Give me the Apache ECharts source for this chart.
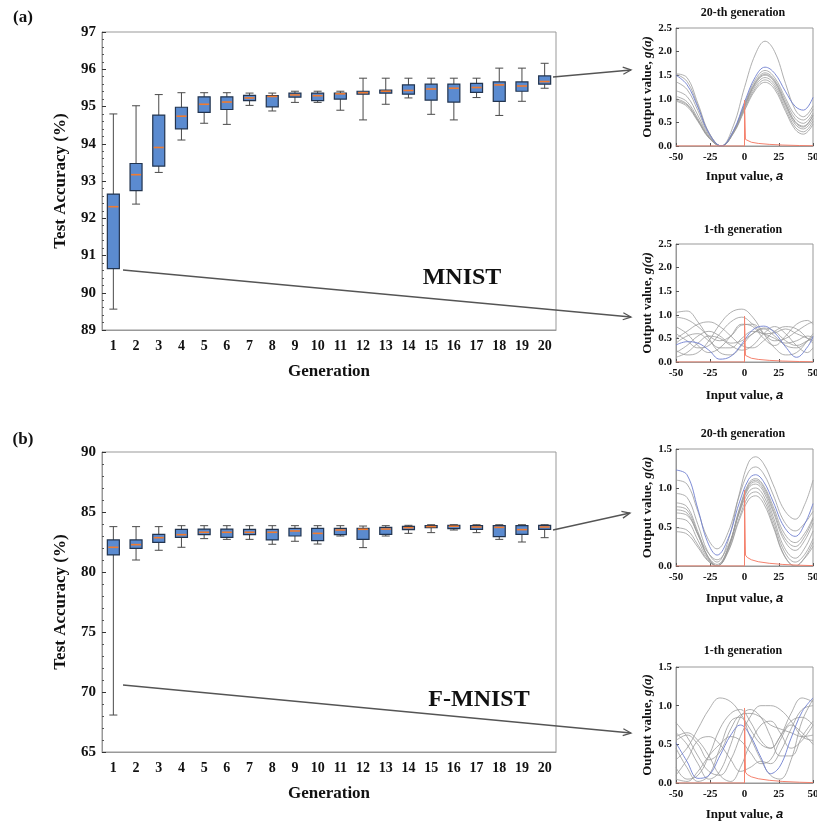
<!DOCTYPE html>
<html>
<head>
<meta charset="utf-8">
<script src="https://cdn.jsdelivr.net/npm/echarts@6/dist/echarts.min.js"></script>
<style>
  html, body { margin: 0; padding: 0; background: #fff; }
  #chart { width: 817px; height: 825px; }
</style>
</head>
<body>
<div id="chart"></div>
<script>
// generations on the x axis of both box plots
const generations = ['1','2','3','4','5','6','7','8','9','10','11','12','13','14','15','16','17','18','19','20'];

// (a) MNIST test accuracy per generation
const mnistLow = [89.56, 92.38, 93.23, 94.10, 94.55, 94.52, 95.03, 94.88, 95.11, 95.11, 94.90, 94.64, 95.06, 95.23, 94.79, 94.64, 95.24, 94.76, 95.14, 95.49];
const mnistQ1 = [90.65, 92.74, 93.40, 94.40, 94.84, 94.92, 95.16, 94.99, 95.25, 95.16, 95.20, 95.33, 95.36, 95.33, 95.17, 95.12, 95.38, 95.14, 95.41, 95.60];
const mnistMedian = [92.31, 93.17, 93.90, 94.74, 95.06, 95.12, 95.23, 95.27, 95.31, 95.29, 95.34, 95.37, 95.41, 95.43, 95.47, 95.49, 95.51, 95.58, 95.55, 95.67];
const mnistQ3 = [92.65, 93.47, 94.77, 94.98, 95.26, 95.26, 95.30, 95.29, 95.36, 95.36, 95.36, 95.41, 95.44, 95.58, 95.60, 95.60, 95.62, 95.66, 95.66, 95.82];
const mnistHigh = [94.80, 95.02, 95.32, 95.37, 95.37, 95.37, 95.36, 95.36, 95.41, 95.41, 95.41, 95.76, 95.76, 95.76, 95.76, 95.76, 95.76, 96.03, 96.03, 96.16];

// (b) F-MNIST test accuracy per generation
const fmnistLow = [68.08, 81.00, 81.81, 82.06, 82.78, 82.72, 82.72, 82.31, 82.56, 82.33, 83.00, 82.03, 83.00, 83.22, 83.28, 83.50, 83.28, 82.72, 82.50, 82.86];
const fmnistQ1 = [81.42, 81.97, 82.47, 82.89, 83.11, 82.89, 83.11, 82.67, 83.00, 82.61, 83.11, 82.72, 83.14, 83.53, 83.69, 83.61, 83.56, 82.94, 83.14, 83.56];
const fmnistMedian = [82.06, 82.28, 82.86, 83.11, 83.31, 83.31, 83.31, 83.31, 83.42, 83.22, 83.50, 83.56, 83.58, 83.69, 83.78, 83.81, 83.75, 83.72, 83.53, 83.75];
const fmnistQ3 = [82.67, 82.67, 83.14, 83.56, 83.58, 83.58, 83.56, 83.56, 83.64, 83.64, 83.64, 83.64, 83.72, 83.81, 83.86, 83.89, 83.86, 83.86, 83.86, 83.89];
const fmnistHigh = [83.78, 83.78, 83.78, 83.86, 83.86, 83.86, 83.86, 83.86, 83.86, 83.86, 83.86, 83.83, 83.86, 83.89, 83.94, 83.94, 83.94, 83.94, 83.94, 83.94];

// activation curves, (a) 20-th generation
const a20X = [-50, -42, -34, -26, -17, -8, 0, 8, 15, 22, 30, 37, 43, 50];
const a20Blue = [1.50, 1.30, 0.82, 0.27, 0.00, 0.33, 0.93, 1.47, 1.67, 1.54, 1.15, 0.84, 0.76, 1.03];
const a20Gray = [
  [1.52, 1.37, 0.85, 0.28, 0.00, 0.44, 1.24, 1.95, 2.22, 2.00, 1.32, 0.77, 0.62, 0.85],
  [1.36, 1.20, 0.75, 0.24, 0.00, 0.32, 0.89, 1.41, 1.60, 1.45, 1.01, 0.65, 0.55, 0.78],
  [1.17, 1.05, 0.65, 0.21, 0.00, 0.31, 0.86, 1.36, 1.55, 1.40, 0.95, 0.58, 0.48, 0.70],
  [1.05, 0.94, 0.58, 0.19, 0.00, 0.30, 0.84, 1.32, 1.50, 1.35, 0.89, 0.52, 0.42, 0.64],
  [1.00, 0.89, 0.55, 0.18, 0.00, 0.29, 0.81, 1.28, 1.45, 1.30, 0.84, 0.46, 0.36, 0.58],
  [0.97, 0.87, 0.54, 0.18, 0.00, 0.28, 0.78, 1.23, 1.40, 1.25, 0.78, 0.40, 0.30, 0.52],
  [0.95, 0.84, 0.52, 0.17, 0.00, 0.27, 0.75, 1.19, 1.35, 1.20, 0.73, 0.35, 0.25, 0.46],
  [1.53, 1.45, 0.90, 0.29, 0.00, 0.30, 0.85, 1.34, 1.52, 1.37, 0.89, 0.50, 0.40, 0.66]
];

// activation curves, (a) 1-th generation
const a1X = [-50, -42, -34, -26, -18, -10, -2, 6, 14, 22, 30, 38, 46, 50];
const a1Blue = [0.36, 0.43, 0.40, 0.25, 0.06, 0.12, 0.38, 0.68, 0.76, 0.62, 0.32, 0.10, 0.32, 0.54];
const a1Gray = [
  [1.05, 1.08, 0.85, 0.50, 0.20, 0.15, 0.35, 0.60, 0.70, 0.55, 0.35, 0.30, 0.45, 0.55],
  [0.25, 0.15, 0.20, 0.45, 0.80, 1.05, 1.12, 0.95, 0.60, 0.30, 0.15, 0.20, 0.45, 0.60],
  [0.95, 0.90, 0.75, 0.55, 0.45, 0.55, 0.78, 0.80, 0.60, 0.45, 0.50, 0.65, 0.80, 0.85],
  [0.50, 0.65, 0.80, 0.85, 0.75, 0.55, 0.35, 0.30, 0.45, 0.65, 0.75, 0.70, 0.50, 0.40],
  [0.20, 0.35, 0.55, 0.65, 0.55, 0.40, 0.45, 0.60, 0.72, 0.65, 0.45, 0.35, 0.45, 0.50],
  [0.75, 0.60, 0.35, 0.20, 0.30, 0.55, 0.80, 0.75, 0.50, 0.35, 0.55, 0.80, 0.88, 0.80],
  [0.60, 0.45, 0.30, 0.35, 0.60, 0.85, 0.95, 0.80, 0.60, 0.62, 0.70, 0.60, 0.50, 0.45],
  [0.10, 0.20, 0.40, 0.55, 0.50, 0.35, 0.25, 0.35, 0.60, 0.75, 0.60, 0.35, 0.20, 0.30],
  [0.40, 0.55, 0.60, 0.45, 0.30, 0.30, 0.50, 0.65, 0.60, 0.50, 0.40, 0.45, 0.55, 0.52]
];

// activation curves, (b) 20-th generation
const b20X = [-50, -42, -34, -27, -20, -12, -4, 3, 8, 14, 21, 29, 37, 44, 50];
const b20Blue = [1.23, 1.17, 0.73, 0.31, 0.14, 0.35, 0.80, 1.11, 1.17, 1.08, 0.82, 0.50, 0.38, 0.54, 0.80];
const b20Gray = [
  [0.93, 0.88, 0.53, 0.19, 0.05, 0.32, 0.91, 1.33, 1.40, 1.31, 1.04, 0.72, 0.60, 0.79, 1.10],
  [1.10, 1.05, 0.70, 0.36, 0.22, 0.43, 0.89, 1.21, 1.27, 1.18, 0.91, 0.57, 0.45, 0.55, 0.70],
  [0.81, 0.76, 0.44, 0.13, 0.00, 0.22, 0.72, 1.06, 1.12, 1.03, 0.76, 0.42, 0.30, 0.42, 0.62],
  [0.76, 0.72, 0.41, 0.12, 0.00, 0.22, 0.69, 1.02, 1.08, 0.98, 0.69, 0.33, 0.20, 0.33, 0.55],
  [0.72, 0.68, 0.40, 0.13, 0.02, 0.23, 0.68, 1.00, 1.05, 0.95, 0.63, 0.24, 0.10, 0.23, 0.45],
  [0.68, 0.65, 0.41, 0.18, 0.08, 0.26, 0.67, 0.95, 1.00, 0.90, 0.58, 0.19, 0.05, 0.15, 0.35],
  [0.61, 0.58, 0.33, 0.10, 0.00, 0.19, 0.61, 0.90, 0.95, 0.85, 0.53, 0.14, 0.00, 0.10, 0.25],
  [0.49, 0.46, 0.27, 0.08, 0.00, 0.18, 0.58, 0.85, 0.90, 0.80, 0.50, 0.13, 0.00, 0.11, 0.30],
  [0.44, 0.41, 0.24, 0.07, 0.00, 0.22, 0.70, 1.04, 1.10, 1.01, 0.72, 0.37, 0.25, 0.38, 0.60]
];

// activation curves, (b) 1-th generation
const b1X = [-50, -42, -34, -26, -18, -10, -3, 4, 12, 19, 26, 34, 42, 50];
const b1Blue = [0.52, 0.28, 0.06, 0.10, 0.35, 0.62, 0.75, 0.62, 0.33, 0.12, 0.22, 0.58, 0.92, 1.10];
const b1Gray = [
  [0.30, 0.45, 0.70, 0.95, 1.10, 1.05, 0.90, 0.70, 0.50, 0.45, 0.60, 0.80, 0.85, 0.75],
  [0.78, 0.60, 0.35, 0.15, 0.10, 0.30, 0.60, 0.85, 1.00, 1.00, 0.95, 0.80, 0.60, 0.55],
  [0.60, 0.65, 0.55, 0.35, 0.10, 0.02, 0.20, 0.50, 0.75, 0.80, 0.65, 0.45, 0.55, 0.75],
  [0.20, 0.05, 0.10, 0.35, 0.70, 0.90, 0.95, 0.80, 0.55, 0.45, 0.60, 0.90, 1.10, 1.05],
  [0.65, 0.50, 0.25, 0.05, 0.15, 0.50, 0.85, 0.95, 0.85, 0.60, 0.35, 0.35, 0.60, 0.80],
  [0.45, 0.20, 0.02, 0.10, 0.45, 0.80, 0.85, 0.60, 0.30, 0.10, 0.05, 0.30, 0.80, 1.08],
  [0.10, 0.30, 0.55, 0.60, 0.50, 0.30, 0.15, 0.20, 0.28, 0.25, 0.40, 0.70, 0.95, 1.00],
  [0.05, 0.02, 0.15, 0.35, 0.50, 0.60, 0.55, 0.40, 0.25, 0.30, 0.55, 0.75, 0.65, 0.50],
  [0.55, 0.62, 0.50, 0.30, 0.40, 0.70, 0.88, 0.90, 0.85, 0.75, 0.70, 0.65, 0.60, 0.62]
];

// the reference (red) activation drawn in every small panel
const reluX = [-50, 0, 0.01, 0.7, 2, 5, 10, 18, 28, 40, 50];
const reluY = [0, 0, 0.97, 0.14, 0.11, 0.08, 0.055, 0.035, 0.02, 0.01, 0.005];

const serif = '"Liberation Serif", "Times New Roman", serif';
const ink = '#111';

function boxRows(lo, q1, md, q3, hi) {
  return lo.map((v, i) => [i, v, q1[i], md[i], q3[i], hi[i]]);
}

function drawBox(params, api) {
  const i = api.value(0);
  const lo = api.coord([i, api.value(1)]);
  const q1 = api.coord([i, api.value(2)]);
  const md = api.coord([i, api.value(3)]);
  const q3 = api.coord([i, api.value(4)]);
  const hi = api.coord([i, api.value(5)]);
  const cx = lo[0], half = 6, cap = 4;
  const ws = { stroke: '#4a4a4a', lineWidth: 1 };
  return {
    type: 'group',
    children: [
      { type: 'line', shape: { x1: cx, y1: lo[1], x2: cx, y2: hi[1] }, style: ws },
      { type: 'line', shape: { x1: cx - cap, y1: lo[1], x2: cx + cap, y2: lo[1] }, style: ws },
      { type: 'line', shape: { x1: cx - cap, y1: hi[1], x2: cx + cap, y2: hi[1] }, style: ws },
      { type: 'rect', shape: { x: cx - half, y: q3[1], width: half * 2, height: Math.max(q1[1] - q3[1], 1.5) },
        style: { fill: '#5b8bd0', stroke: '#22344f', lineWidth: 1.2 } },
      { type: 'line', shape: { x1: cx - half + 1, y1: md[1], x2: cx + half - 1, y2: md[1] },
        style: { stroke: '#f07b30', lineWidth: 1.6 } }
    ]
  };
}

function mainX(gi) {
  return {
    type: 'category', gridIndex: gi, data: generations, boundaryGap: true,
    axisLine: { lineStyle: { color: '#999' } },
    axisTick: { alignWithLabel: true, inside: true, length: 4, lineStyle: { color: '#333' } },
    axisLabel: { fontFamily: serif, fontWeight: 'bold', fontSize: 14, color: ink, margin: 9 },
    splitLine: { show: false },
    name: 'Generation', nameLocation: 'middle', nameGap: 33,
    nameTextStyle: { fontFamily: serif, fontWeight: 'bold', fontSize: 17, color: ink }
  };
}

function mainY(gi, min, max, step) {
  return {
    type: 'value', gridIndex: gi, min: min, max: max, interval: step,
    axisLine: { show: true, onZero: false, lineStyle: { color: '#999' } },
    axisTick: { show: true, inside: true, length: 4, lineStyle: { color: '#333' } },
    minorTick: { show: true, splitNumber: 5, length: 2, lineStyle: { color: '#555' } },
    splitLine: { show: false },
    axisLabel: { fontFamily: serif, fontWeight: 'bold', fontSize: 15, color: ink, margin: 6 },
    name: 'Test Accuracy (%)', nameLocation: 'middle', nameGap: 33, nameRotate: 90,
    nameTextStyle: { fontFamily: serif, fontWeight: 'bold', fontSize: 17, color: ink }
  };
}

function smallX(gi, gap) {
  return {
    type: 'value', gridIndex: gi, min: -50, max: 50, interval: 25,
    axisLine: { onZero: false, lineStyle: { color: '#999' } },
    axisTick: { inside: true, length: 3, lineStyle: { color: '#555' } },
    splitLine: { show: false },
    axisLabel: { fontFamily: serif, fontWeight: 'bold', fontSize: 11, color: ink, margin: 6 },
    name: 'Input value, {i|a}', nameLocation: 'middle', nameGap: gap,
    nameTextStyle: {
      fontFamily: serif, fontWeight: 'bold', fontSize: 13, color: ink,
      rich: { i: { fontFamily: '"Liberation Sans", Arial, sans-serif', fontStyle: 'italic', fontWeight: 'bold', fontSize: 13, color: ink } }
    }
  };
}

function smallY(gi, max) {
  return {
    type: 'value', gridIndex: gi, min: 0, max: max, interval: 0.5,
    axisLine: { show: true, onZero: false, lineStyle: { color: '#999' } },
    axisTick: { show: true, inside: true, length: 3, lineStyle: { color: '#555' } },
    splitLine: { show: false },
    axisLabel: { fontFamily: serif, fontWeight: 'bold', fontSize: 11, color: ink, margin: 4,
      formatter: v => v.toFixed(1) },
    name: 'Output value, {i|g(a)}', nameLocation: 'middle', nameGap: 22, nameRotate: 90,
    nameTextStyle: {
      fontFamily: serif, fontWeight: 'bold', fontSize: 13, color: ink,
      rich: { i: { fontFamily: serif, fontStyle: 'italic', fontWeight: 'bold', fontSize: 13, color: ink } }
    }
  };
}

function curveSeries(gi, xs, rows, color, width) {
  return rows.map(r => ({
    type: 'line', xAxisIndex: gi, yAxisIndex: gi, silent: true,
    data: xs.map((x, k) => [x, r[k]]),
    smooth: 0.4, symbol: 'none',
    lineStyle: { color: color, width: width }
  }));
}

function panelSeries(gi, xs, grays, blue) {
  return [].concat(
    curveSeries(gi, xs, grays, '#9a9a9a', 0.8),
    curveSeries(gi, xs, [blue], '#6f7fd0', 0.9),
    [{
      type: 'line', xAxisIndex: gi, yAxisIndex: gi, silent: true, z: 5,
      data: reluX.map((x, k) => [x, reluY[k]]),
      symbol: 'none', lineStyle: { color: '#f4826e', width: 1 }
    }]
  );
}

function arrow(x1, y1, x2, y2) {
  const ang = Math.atan2(y2 - y1, x2 - x1), L = 8, W = 3.5;
  const bx = x2 - L * Math.cos(ang), by = y2 - L * Math.sin(ang);
  const px = -Math.sin(ang) * W, py = Math.cos(ang) * W;
  const st = { stroke: '#555', lineWidth: 1.3, fill: null };
  return [
    { type: 'line', z: 100, shape: { x1: x1, y1: y1, x2: x2, y2: y2 }, style: st },
    { type: 'polyline', z: 100, shape: { points: [[bx + px, by + py], [x2, y2], [bx - px, by - py]] }, style: st }
  ];
}

function label(text, x, y, size) {
  return {
    type: 'text', x: x, y: y, z: 100,
    style: { text: text, fontFamily: serif, fontWeight: 'bold', fontSize: size, fill: ink,
      align: 'center', verticalAlign: 'middle' }
  };
}

const gridBase = { show: true, borderColor: '#999', borderWidth: 1, backgroundColor: 'transparent',
  containLabel: false, outerBoundsMode: 'none' };

const chart = echarts.init(document.getElementById('chart'));
chart.setOption({
  animation: false,
  backgroundColor: '#fff',
  grid: [
    Object.assign({ left: 102, top: 32, width: 454, height: 298 }, gridBase),
    Object.assign({ left: 102, top: 452, width: 454, height: 300 }, gridBase),
    Object.assign({ left: 676, top: 28, width: 137, height: 118 }, gridBase),
    Object.assign({ left: 676, top: 244, width: 137, height: 118 }, gridBase),
    Object.assign({ left: 676, top: 449, width: 137, height: 117 }, gridBase),
    Object.assign({ left: 676, top: 667, width: 137, height: 116 }, gridBase)
  ],
  xAxis: [mainX(0), mainX(1), smallX(2, 24), smallX(3, 27), smallX(4, 26), smallX(5, 25)],
  yAxis: [mainY(0, 89, 97, 1), mainY(1, 65, 90, 5), smallY(2, 2.5), smallY(3, 2.5), smallY(4, 1.5), smallY(5, 1.5)],
  series: [
    { type: 'custom', xAxisIndex: 0, yAxisIndex: 0, renderItem: drawBox, encode: { x: 0, y: [1, 2, 3, 4, 5] },
      data: boxRows(mnistLow, mnistQ1, mnistMedian, mnistQ3, mnistHigh), z: 3 },
    { type: 'custom', xAxisIndex: 1, yAxisIndex: 1, renderItem: drawBox, encode: { x: 0, y: [1, 2, 3, 4, 5] },
      data: boxRows(fmnistLow, fmnistQ1, fmnistMedian, fmnistQ3, fmnistHigh), z: 3 }
  ].concat(
    panelSeries(2, a20X, a20Gray, a20Blue),
    panelSeries(3, a1X, a1Gray, a1Blue),
    panelSeries(4, b20X, b20Gray, b20Blue),
    panelSeries(5, b1X, b1Gray, b1Blue)
  ),
  graphic: [
    label('(a)', 23, 18, 17),
    label('(b)', 23, 440, 17),
    label('MNIST', 462, 278, 24),
    label('F-MNIST', 479, 700, 24),
    label('20-th generation', 743, 13, 12),
    label('1-th generation', 743, 230, 12),
    label('20-th generation', 743, 434, 12),
    label('1-th generation', 743, 651, 12)
  ].concat(
    arrow(553, 77, 631, 70),
    arrow(123, 270, 631, 317),
    arrow(553, 530, 630, 513),
    arrow(123, 685, 631, 733)
  )
});
</script>
</body>
</html>
